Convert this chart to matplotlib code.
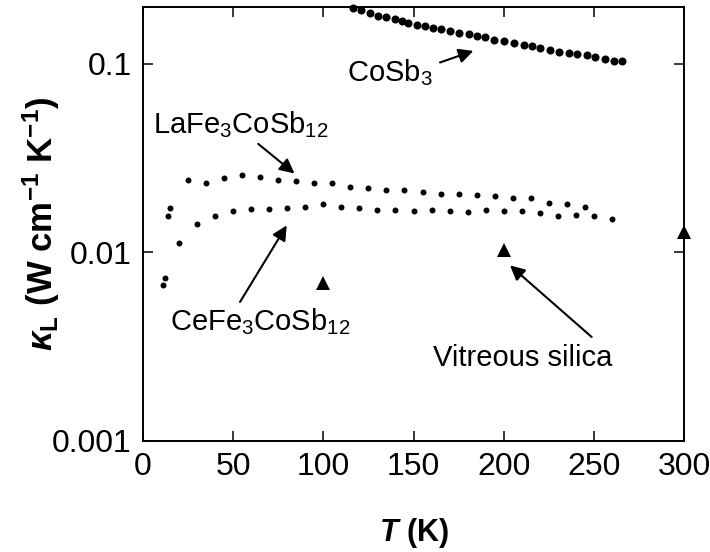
import matplotlib
matplotlib.use("Agg")
import matplotlib.pyplot as plt

plt.rcParams.update({
    "font.family": ["Liberation Sans", "DejaVu Sans"],
    "mathtext.fontset": "custom",
    "mathtext.rm": "Liberation Sans",
    "mathtext.it": "Liberation Sans:italic",
    "mathtext.bf": "Liberation Sans:bold",
    "mathtext.bfit": "Liberation Sans:italic:bold",
    "mathtext.sf": "Liberation Sans",
})

# Lattice thermal conductivity data (W cm^-1 K^-1) versus temperature (K)
T_cosb3 = [116.5, 121, 126, 130.5, 135, 139.5, 143.5, 147, 152, 156.5, 161, 165.5,
           170, 175, 180.5, 185, 189.5, 194.5, 200, 205.5, 211, 215.5, 220, 225.5,
           230.5, 236, 240.5, 246, 250.5, 256, 261, 265.5]
k_cosb3 = [0.197, 0.192, 0.185, 0.180, 0.176, 0.172, 0.169, 0.165, 0.161, 0.158,
           0.155, 0.152, 0.150, 0.146, 0.144, 0.140, 0.138, 0.134, 0.132, 0.129,
           0.126, 0.124, 0.121, 0.119, 0.116, 0.114, 0.113, 0.111, 0.109, 0.106,
           0.104, 0.103]

T_la = [14, 15, 25, 35, 45, 55, 65, 75, 85, 95, 105, 115, 125, 135, 145, 155,
        165, 175, 185, 195, 205, 215, 225, 235, 245]
k_la = [0.0155, 0.0172, 0.0243, 0.0234, 0.0247, 0.0258, 0.0252, 0.0241, 0.0240,
        0.0233, 0.0233, 0.0223, 0.0220, 0.0215, 0.0215, 0.0208, 0.0204, 0.0203,
        0.0202, 0.0199, 0.0195, 0.0195, 0.0183, 0.0181, 0.0175]

T_ce = [11, 12, 20, 30, 40, 50, 60, 70, 80, 90, 100, 110, 120, 130, 140, 150,
        160, 170, 180, 190, 200, 210, 220, 230, 240, 250, 260]
k_ce = [0.0067, 0.0073, 0.0112, 0.0141, 0.0155, 0.0165, 0.0170, 0.0170, 0.0171,
        0.0173, 0.0180, 0.0174, 0.0172, 0.0168, 0.0168, 0.0165, 0.0167, 0.0165,
        0.0164, 0.0168, 0.0165, 0.0165, 0.0161, 0.0156, 0.0158, 0.0155, 0.0151]

T_silica = [100, 200, 300]
k_silica = [0.0069, 0.0103, 0.0128]

x_ticks = [0, 50, 100, 150, 200, 250, 300]
y_ticks = [0.001, 0.01, 0.1]
y_tick_labels = ["0.001", "0.01", "0.1"]

fig = plt.figure(figsize=(7.10, 5.52), dpi=100)
ax = fig.add_axes([143 / 710, 1 - 441 / 552, (684 - 143) / 710, (441 - 7) / 552])

ax.plot(T_cosb3, k_cosb3, "o", color="black", ms=5.8, mew=0, clip_on=False)
ax.plot(T_la, k_la, "o", color="black", ms=4.3, mew=0)
ax.plot(T_ce, k_ce, "o", color="black", ms=4.3, mew=0)
ax.plot(T_silica, k_silica, "^", color="black", ms=9.5, mew=0, clip_on=False)

ax.set_yscale("log")
ax.set_xlim(0, 300)
ax.set_ylim(0.001, 0.2)
ax.set_xticks(x_ticks)
ax.set_yticks(y_ticks, labels=y_tick_labels)
ax.yaxis.set_minor_locator(matplotlib.ticker.NullLocator())

ax.tick_params(which="major", direction="in", length=7.5, width=1.1,
               labelsize=23, top=True, right=True, pad=8)
for sp in ax.spines.values():
    sp.set_linewidth(1.4)

ax.set_xlabel(r"$\mathbfit{T}$ (K)", fontsize=22, fontweight="bold")
ax.xaxis.set_label_coords(0.5, -(516 - 441) / 434)
ax.set_ylabel(r"$\mathbfit{\kappa}_{\mathbf{L}}$ (W cm$^{\mathbf{-1}}$ K$^{\mathbf{-1}}$)",
              fontsize=25, fontweight="bold")
ax.yaxis.set_label_coords(-(143 - 62) / 541, 0.5)

arrow = dict(arrowstyle="-|>", color="black", lw=1.5, mutation_scale=22,
             shrinkA=0, shrinkB=0)
ann_size = 21

ax.annotate("", xy=(183.2, 0.117), xytext=(164.7, 0.1016), arrowprops=arrow)
ax.text(113, 0.0813, r"CoSb$_3$", fontsize=ann_size, ha="left", va="baseline")

ax.annotate("", xy=(84, 0.0262), xytext=(63.9, 0.0376), arrowprops=arrow)
ax.text(5.5, 0.0426, r"LaFe$_3$CoSb$_{12}$", fontsize=ann_size, ha="left", va="baseline")

ax.annotate("", xy=(79.7, 0.0139), xytext=(53.8, 0.00546), arrowprops=arrow)
ax.text(15, 0.00387, r"CeFe$_3$CoSb$_{12}$", fontsize=ann_size, ha="left", va="baseline")

ax.annotate("", xy=(203.5, 0.00853), xytext=(248.8, 0.00356), arrowprops=arrow)
ax.text(160.8, 0.00249, "Vitreous silica", fontsize=ann_size, ha="left", va="baseline")

fig.savefig("out.png", dpi=100)
